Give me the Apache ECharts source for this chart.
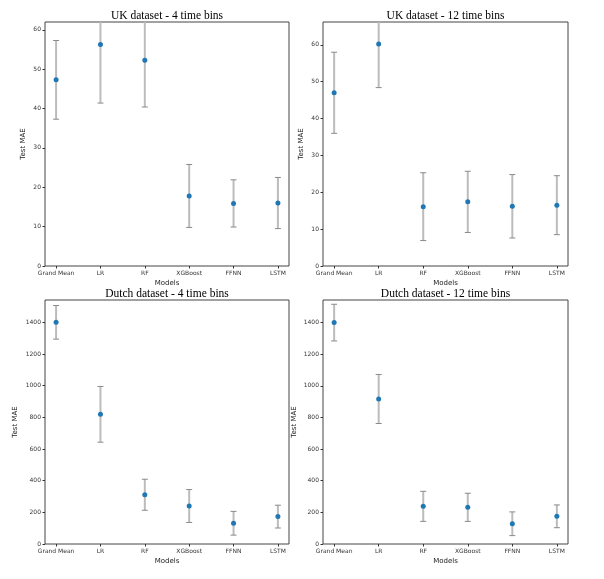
<!DOCTYPE html>
<html>
<head>
<meta charset="utf-8">
<script src="https://cdn.jsdelivr.net/npm/echarts@6/dist/echarts.min.js"></script>
<style>html,body{margin:0;padding:0;background:#fff}#c{width:604px;height:579px}</style>
</head>
<body>
<div id="c"></div>
<script>
var models = ['Grand Mean', 'LR', 'RF', 'XGBoost', 'FFNN', 'LSTM'];
var titles = ['UK dataset - 4 time bins', 'UK dataset - 12 time bins', 'Dutch dataset - 4 time bins', 'Dutch dataset - 12 time bins'];
var ukMean4 = [47.3, 56.3, 52.3, 17.8, 15.9, 16.0];
var ukErr4 = [10.0, 14.9, 11.9, 8.0, 6.0, 6.5];
var ukMean12 = [47.0, 60.2, 16.1, 17.4, 16.2, 16.5];
var ukErr12 = [11.0, 11.8, 9.2, 8.3, 8.6, 8.0];
var nlMean4 = [1400, 819, 311, 240, 131, 173];
var nlErr4 = [106, 176, 98, 104, 75, 72];
var nlMean12 = [1400, 917, 238, 232, 128, 175];
var nlErr12 = [116, 155, 95, 89, 75, 72];
var ukTicks = [0, 10, 20, 30, 40, 50, 60];
var nlTicks = [0, 200, 400, 600, 800, 1000, 1200, 1400];

var panels = [
  {mean: ukMean4, err: ukErr4, ticks: ukTicks, max: 62, left: 45, top: 22, width: 244, nameGap: 18},
  {mean: ukMean12, err: ukErr12, ticks: ukTicks, max: 66.2, left: 323, top: 22, width: 245, nameGap: 18},
  {mean: nlMean4, err: nlErr4, ticks: nlTicks, max: 1541, left: 45, top: 300, width: 244, nameGap: 26},
  {mean: nlMean12, err: nlErr12, ticks: nlTicks, max: 1543, left: 323, top: 300, width: 245, nameGap: 25}
];

var chart = echarts.init(document.getElementById('c'));
var xIdx = [0, 1, 2, 3, 4, 5];
var grids = [], xAxes = [], yAxes = [], series = [], titleOpts = [];
panels.forEach(function (p, i) {
  grids.push({left: p.left, top: p.top, width: p.width, height: 244, show: true, borderColor: '#444', borderWidth: 1, backgroundColor: 'transparent'});
  titleOpts.push({text: titles[i], left: p.left + p.width / 2, top: p.top - 12.5, textAlign: 'center', padding: 0,
    textStyle: {fontFamily: 'Liberation Serif', fontSize: 11.5, fontWeight: 'normal', color: '#000'}});
  xAxes.push({type: 'value', gridIndex: i, min: -0.25, max: 5.25, name: 'Models', nameLocation: 'middle', nameGap: 14,
    nameTextStyle: {fontFamily: 'DejaVu Sans', fontSize: 7, color: '#222'},
    axisLine: {show: false, onZero: false}, splitLine: {show: false},
    axisTick: {show: true, length: 2.5, lineStyle: {color: '#333'}, customValues: xIdx},
    axisLabel: {customValues: xIdx, fontFamily: 'DejaVu Sans', fontSize: 6, color: '#333', margin: 4,
      formatter: function (v) { return models[Math.round(v)]; }}});
  yAxes.push({type: 'value', gridIndex: i, min: 0, max: p.max, name: 'Test MAE', nameLocation: 'middle', nameGap: p.nameGap,
    nameTextStyle: {fontFamily: 'DejaVu Sans', fontSize: 7, color: '#222'},
    axisLine: {show: false, onZero: false}, splitLine: {show: false},
    axisTick: {show: true, length: 2.5, lineStyle: {color: '#333'}, customValues: p.ticks},
    axisLabel: {customValues: p.ticks, fontFamily: 'DejaVu Sans', fontSize: 6, color: '#333', margin: 4,
      formatter: function (v) { return String(Math.round(v)); }}});
  var errData = p.mean.map(function (m, k) { return [k, m, p.err[k]]; });
  series.push({type: 'custom', xAxisIndex: i, yAxisIndex: i, clip: true, data: errData,
    renderItem: function (params, api) {
      var x = api.value(0), m = api.value(1), e = api.value(2);
      var lo = api.coord([x, m - e]), hi = api.coord([x, m + e]);
      var cw = 3;
      return {type: 'group', children: [
        {type: 'line', shape: {x1: lo[0], y1: lo[1], x2: hi[0], y2: hi[1]}, style: {stroke: '#bcbcbc', lineWidth: 2}},
        {type: 'line', shape: {x1: lo[0] - cw, y1: lo[1], x2: lo[0] + cw, y2: lo[1]}, style: {stroke: '#8a8a8a', lineWidth: 1}},
        {type: 'line', shape: {x1: hi[0] - cw, y1: hi[1], x2: hi[0] + cw, y2: hi[1]}, style: {stroke: '#8a8a8a', lineWidth: 1}}
      ]};
    }});
  series.push({type: 'scatter', xAxisIndex: i, yAxisIndex: i, symbolSize: 5, itemStyle: {color: '#1f77b4', opacity: 1},
    data: p.mean.map(function (m, k) { return [k, m]; }), z: 5});
});

chart.setOption({
  animation: false,
  title: titleOpts,
  grid: grids,
  xAxis: xAxes,
  yAxis: yAxes,
  series: series
});
</script>
</body>
</html>
